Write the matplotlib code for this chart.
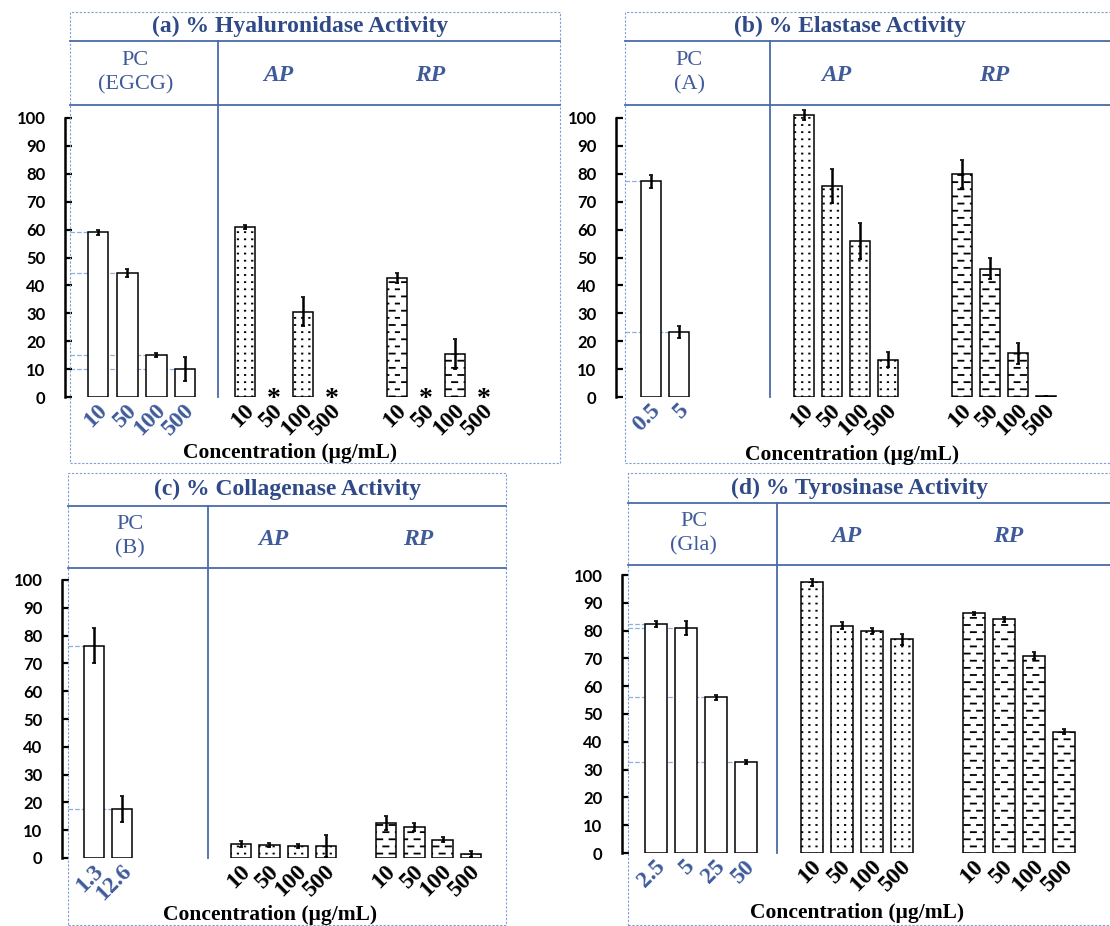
import warnings
import numpy as np
import matplotlib
matplotlib.use('Agg')
import matplotlib.pyplot as plt
from matplotlib import hatch as mhatch
from matplotlib.path import Path
from matplotlib.lines import Line2D
from matplotlib.patches import Rectangle
from matplotlib.transforms import ScaledTranslation, blended_transform_factory

warnings.filterwarnings('ignore', category=matplotlib.MatplotlibDeprecationWarning)

# ---- data ----
ext_conc = ['10', '50', '100', '500']

hyal_pc_conc = ['10', '50', '100', '500']
hyal_pc = [59.0, 44.5, 15.0, 10.0]
hyal_pc_err = [1.0, 1.5, 0.7, 4.2]
hyal_ap = [61.0, np.nan, 30.5, np.nan]
hyal_ap_err = [0.7, 0.0, 5.2, 0.0]
hyal_rp = [42.8, np.nan, 15.4, np.nan]
hyal_rp_err = [1.8, 0.0, 5.5, 0.0]

elas_pc_conc = ['0.5', '5']
elas_pc = [77.3, 23.4]
elas_pc_err = [2.3, 2.2]
elas_ap = [101.2, 75.6, 55.9, 13.4]
elas_ap_err = [1.8, 6.0, 6.6, 2.8]
elas_rp = [79.9, 46.0, 15.6, 0.3]
elas_rp_err = [4.9, 3.7, 3.7, 0.0]

coll_pc_conc = ['1.3', '12.6']
coll_pc = [76.4, 17.6]
coll_pc_err = [6.4, 4.7]
coll_ap = [5.1, 4.6, 4.3, 4.2]
coll_ap_err = [1.0, 0.8, 0.7, 3.9]
coll_rp = [12.6, 11.1, 6.6, 1.4]
coll_rp_err = [2.4, 1.5, 0.8, 1.2]

tyro_pc_conc = ['2.5', '5', '25', '50']
tyro_pc = [82.3, 81.0, 56.0, 32.6]
tyro_pc_err = [1.0, 2.6, 1.0, 0.7]
tyro_ap = [97.4, 81.8, 79.8, 76.8]
tyro_ap_err = [1.2, 1.2, 1.1, 2.1]
tyro_rp = [86.2, 84.0, 71.0, 43.7]
tyro_rp_err = [0.5, 0.8, 1.3, 0.8]

W, H = 1110, 926
DARK_BLUE = '#2F4A87'
HEAD_BLUE = '#3F5B9A'
LINE_BLUE = '#4A6AA8'
REF_BLUE = '#8EB0D8'
SERIF = 'Liberation Serif'


class SegmentHatch(mhatch.HatchPatternBase):
    """grid of short horizontal segments; odd rows shifted by half a cell"""
    char = None
    rows = 14
    cols = 8
    length = 0.42
    stagger = True

    def __init__(self, hatch, density):
        self.num_vertices = 2 * self.rows * self.cols if self.char in hatch else 0

    def set_vertices_and_codes(self, vertices, codes):
        k = 0
        for r in range(self.rows):
            y = (r + 0.5) / self.rows
            shift = 0.5 / self.cols if (self.stagger and r % 2) else 0.0
            for c in range(self.cols):
                x0 = c / self.cols + shift + 0.02
                vertices[k] = (x0, y)
                vertices[k + 1] = (x0 + self.length / self.cols, y)
                codes[k] = Path.MOVETO
                codes[k + 1] = Path.LINETO
                k += 2


class DashHatch(SegmentHatch):
    char = '_'


class DotHatch(SegmentHatch):
    char = ','
    rows = 14
    cols = 14
    length = 0.06
    stagger = False


mhatch._hatch_types += [DashHatch, DotHatch]
plt.rcParams['hatch.linewidth'] = 1.3


def fx(px):
    return px / W


def fy(py):
    return 1 - py / H


def draw_bars(ax, xs, vals, errs, hatch, width):
    vals = np.asarray(vals, dtype=float)
    errs = np.asarray(errs, dtype=float)
    ok = ~np.isnan(vals)
    ax.bar(xs[ok], vals[ok], width, color='white', edgecolor='black',
           linewidth=1.1, hatch=hatch, zorder=2)
    ax.errorbar(xs[ok], vals[ok], yerr=errs[ok], fmt='none', ecolor='black',
                elinewidth=1.8, capsize=1.5, capthick=1.2, zorder=3)
    star_tr = ax.transData + ScaledTranslation(0, -0.09, ax.figure.dpi_scale_trans)
    for x in xs[~ok]:
        ax.text(x, 0, '*', ha='center', va='baseline', fontsize=20,
                fontweight='bold', family=SERIF, transform=star_tr)


def panel(fig, lay, title, pc_name, pc_conc, pc, pc_err, ap, ap_err, rp, rp_err):
    left, top, right, bottom = lay['box']
    spine, y0, y100 = lay['spine'], lay['y0'], lay['y100']
    tline, hline, step = lay['tline'], lay['hline'], lay['step']

    # dashed outer box, header lines and texts
    fig.patches.append(Rectangle((fx(left), fy(bottom)), fx(right) - fx(left),
                                 (bottom - top) / H, transform=fig.transFigure,
                                 fill=False, edgecolor='#7F9ED0', lw=0.8,
                                 ls=(0, (2, 1.5))))
    for yl in (tline, hline):
        fig.lines.append(Line2D([fx(left), fx(right)], [fy(yl), fy(yl)],
                                transform=fig.transFigure, color=LINE_BLUE, lw=1.3))
    fig.text(fx(lay['title_x']), fy((top + tline) / 2), title, ha='center',
             va='center', fontsize=17, fontweight='bold', color=DARK_BLUE,
             family=SERIF)
    fig.text(fx(lay['label'][0]), fy(lay['label'][1]), 'Concentration (μg/mL)',
             ha='center', va='center', fontsize=15.5, fontweight='bold',
             family=SERIF)

    ax = fig.add_axes([fx(spine), fy(y0), fx(right) - fx(spine), (y0 - hline) / H])
    ax.set_facecolor('none')
    ax.set_xlim(0, (right - spine) / step)
    ax.set_ylim(0, 100 * (y0 - hline) / (y0 - y100))

    pc_x = lay['pc_start'] + np.arange(len(pc))
    ap_x = lay['ap_start'] + np.arange(4)
    rp_x = lay['rp_start'] + np.arange(4)
    box_left = (left - spine) / step
    width = lay['width']

    # dashed reference lines at the positive-control levels
    for x, v in zip(pc_x, pc):
        ax.plot([box_left, x], [v, v], ls='--', lw=0.9, color=REF_BLUE, zorder=1)

    draw_bars(ax, pc_x, pc, pc_err, None, width)
    draw_bars(ax, ap_x, ap, ap_err, ',', width)
    draw_bars(ax, rp_x, rp, rp_err, '_', width)

    # divider between PC and samples
    tr = blended_transform_factory(ax.transData, ax.transAxes)
    div = lay['divider']
    ax.plot([div, div], [0, (y0 - tline) / (y0 - hline)], color=LINE_BLUE,
            lw=1.3, transform=tr, clip_on=False)

    # group headers
    head_y = ((y0 - (tline + hline) / 2) / (y0 - hline))
    ax.text((box_left + div) / 2 - 0.3, head_y, pc_name, transform=tr,
            ha='center', va='center', fontsize=16, color=HEAD_BLUE,
            family=SERIF, linespacing=1.4)
    for name, xs in (('AP', ap_x), ('RP', rp_x)):
        ax.text(xs.mean() - 0.35, head_y - 0.01, name, transform=tr, ha='center',
                va='center', fontsize=17, fontweight='bold', style='italic',
                color=HEAD_BLUE, family=SERIF)

    # rotated concentration labels
    lab_tr = ax.get_xaxis_transform() + ScaledTranslation(0.06, -0.1,
                                                          fig.dpi_scale_trans)
    for xs, labels, col in ((pc_x, pc_conc, HEAD_BLUE), (ap_x, ext_conc, 'black'),
                            (rp_x, ext_conc, 'black')):
        for x, lab in zip(xs, labels):
            ax.text(x, 0, lab, transform=lab_tr, rotation=45, ha='right',
                    va='center', rotation_mode='anchor', fontsize=17,
                    fontweight='bold', color=col, family=SERIF)

    # axes styling
    ax.set_xticks([])
    for s in ('top', 'right', 'bottom'):
        ax.spines[s].set_visible(False)
    ax.spines['left'].set_linewidth(1.8)
    ax.spines['left'].set_bounds(0, 100)
    ax.set_yticks(range(0, 101, 10))
    ax.tick_params(axis='y', direction='in', length=5, width=1.6, pad=14,
                   labelsize=12)
    for t in ax.get_yticklabels():
        t.set_fontweight('bold')
        t.set_family('Lato')
    return ax


fig = plt.figure(figsize=(W / 100, H / 100), dpi=100)

lay_a = dict(box=(70, 12, 560, 463), spine=65, y0=397, y100=118, tline=41,
             hline=105, step=29, pc_start=1.15, divider=5.28, ap_start=6.2,
             rp_start=11.45, width=0.7, title_x=300, label=(290, 453))
lay_b = dict(box=(625, 12, 1116, 463), spine=616, y0=397, y100=118, tline=41,
             hline=105, step=28, pc_start=1.25, divider=5.5, ap_start=6.71,
             rp_start=12.36, width=0.72, title_x=850, label=(852, 455))
lay_c = dict(box=(68, 473, 506, 925), spine=62, y0=858, y100=580, tline=506,
             hline=568, step=28.3, pc_start=1.13, divider=5.16, ap_start=6.33,
             rp_start=11.45, width=0.72, title_x=288, label=(270, 915))
lay_d = dict(box=(628, 473, 1116, 925), spine=622, y0=853, y100=575, tline=503,
             hline=565, step=30, pc_start=1.13, divider=5.17, ap_start=6.33,
             rp_start=11.73, width=0.72, title_x=860, label=(857, 913))

panel(fig, lay_a, '(a) % Hyaluronidase Activity', 'PC\n(EGCG)', hyal_pc_conc,
      hyal_pc, hyal_pc_err, hyal_ap, hyal_ap_err, hyal_rp, hyal_rp_err)
panel(fig, lay_b, '(b) % Elastase Activity', 'PC\n(A)', elas_pc_conc,
      elas_pc, elas_pc_err, elas_ap, elas_ap_err, elas_rp, elas_rp_err)
panel(fig, lay_c, '(c) % Collagenase Activity', 'PC\n(B)', coll_pc_conc,
      coll_pc, coll_pc_err, coll_ap, coll_ap_err, coll_rp, coll_rp_err)
panel(fig, lay_d, '(d) % Tyrosinase Activity', 'PC\n(Gla)', tyro_pc_conc,
      tyro_pc, tyro_pc_err, tyro_ap, tyro_ap_err, tyro_rp, tyro_rp_err)

fig.savefig('out.png', dpi=100)
